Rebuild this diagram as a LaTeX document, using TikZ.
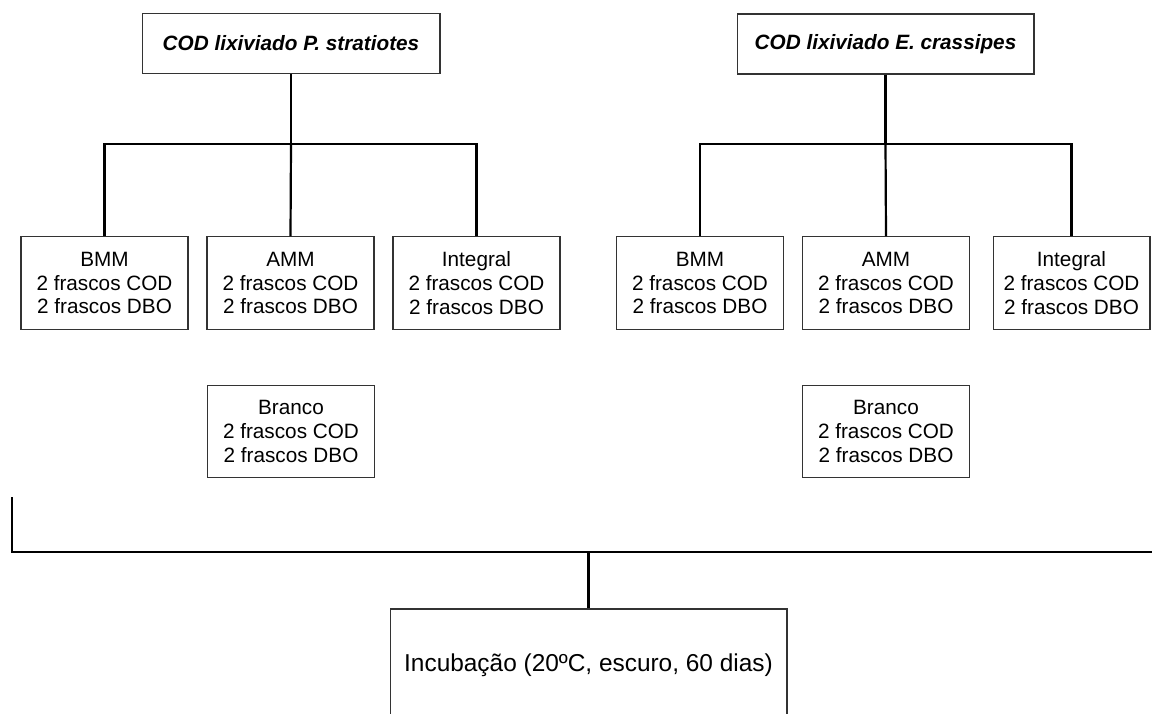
\documentclass[tikz,border=0pt]{standalone}
\usepackage{fontspec}
\setmainfont{Liberation Sans}
\usepackage{tikz}
\usetikzlibrary{positioning, calc}

\begin{document}
\begin{tikzpicture}[
  x=0.02cm, y=-0.02cm,
  line width=1.25pt,
  headbox/.style={rectangle, draw=black!80, line width=0.6pt, inner sep=0pt,
    minimum width=5.96cm, minimum height=1.2cm,
    font=\fontsize{11.8}{13.6}\selectfont\bfseries\itshape},
  subbox/.style={rectangle, draw=black!80, line width=0.6pt, inner sep=0pt,
    minimum width=#1, minimum height=1.85cm, align=center,
    font=\fontsize{11.8}{13.6}\selectfont},
  subbox/.default=3.34cm,
  incbox/.style={rectangle, draw=black!80, line width=0.6pt, inner sep=0pt,
    minimum width=7.94cm, minimum height=2.24cm,
    font=\fontsize{13.9}{16}\selectfont},
]
  \useasboundingbox (0,0) rectangle (1152,713);
  \clip (0,0) rectangle (1152,713);

  \node[headbox] (ps) at (291,43.5) {COD lixiviado P. stratiotes};
  \node[headbox, minimum width=5.94cm] (ec) at (885.5,44) {COD lixiviado E. crassipes};

  \node[subbox] (psBMM) at (104.5,283) {BMM\\2 frascos COD\\2 frascos DBO};
  \node[subbox] (psAMM) at (290.5,283) {AMM\\2 frascos COD\\2 frascos DBO};
  \node[subbox] (psInt) at (476.5,283) {Integral\\2 frascos COD\\2 frascos DBO};
  \node[subbox] (ecBMM) at (700,283) {BMM\\2 frascos COD\\2 frascos DBO};
  \node[subbox] (ecAMM) at (886,283) {AMM\\2 frascos COD\\2 frascos DBO};
  \node[subbox=3.14cm] (ecInt) at (1071.5,283) {Integral\\2 frascos COD\\2 frascos DBO};

  \node[subbox] (psBr) at (291,431.5) {Branco\\2 frascos COD\\2 frascos DBO};
  \node[subbox] (ecBr) at (886,431.5) {Branco\\2 frascos COD\\2 frascos DBO};

  \node[incbox] (inc) at (588.5,665) {Incubação (20ºC, escuro, 60 dias)};

  \coordinate (psbar) at (ps.south |- 0,144);
  \coordinate (ecbar) at (ec.south |- 0,144);
  \draw (ps.south) -- (psbar);
  \draw (psBMM.north) |- (psbar) -| (psInt.north);
  \draw (psbar) -- (psAMM.north);
  \draw (ec.south) -- (ecbar);
  \draw (ecBMM.north) |- (ecbar) -| (ecInt.north);
  \draw (ecbar) -- (ecAMM.north);

  \coordinate (lowL) at (12,497);
  \coordinate (lowR) at (1160,552);
  \draw (lowL) |- (lowR);
  \draw (inc.north) -- (inc.north |- lowR);
\end{tikzpicture}
\end{document}
